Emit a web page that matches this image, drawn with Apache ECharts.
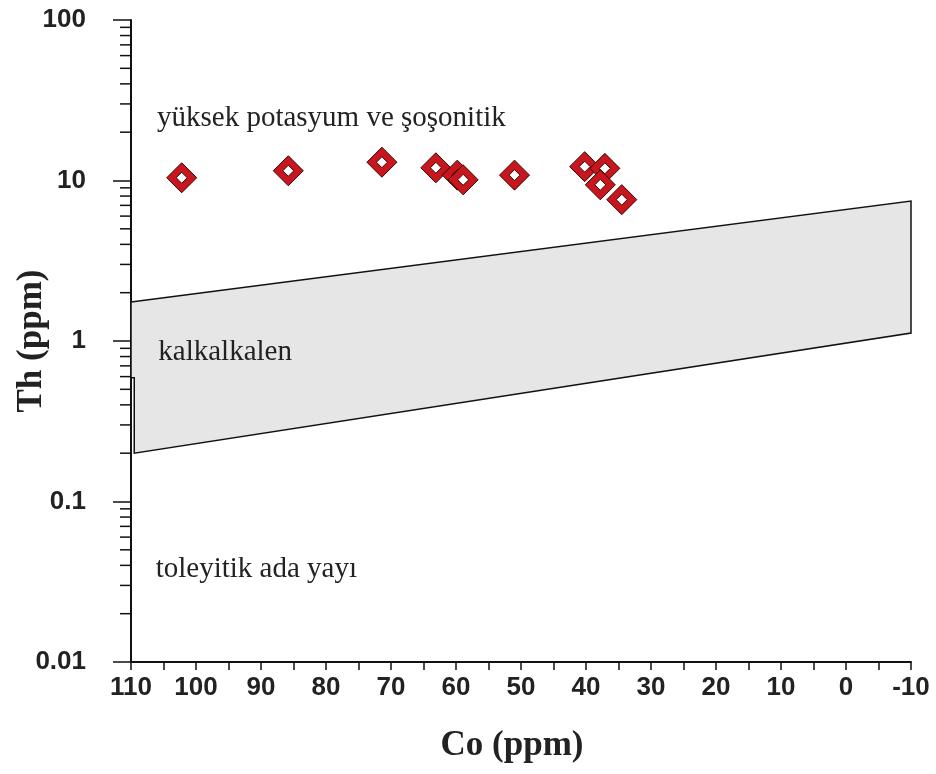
<!DOCTYPE html>
<html><head><meta charset="utf-8">
<script src="https://cdn.jsdelivr.net/npm/echarts@6/dist/echarts.min.js"></script>
<style>html,body{margin:0;padding:0;background:#fff}#c{width:936px;height:774px}</style>
</head><body><div id="c"></div>
<script>
// Sample points (Co ppm, Th ppm)
const sampleCo = [102.2, 85.8, 71.4, 63.1, 59.8, 58.9, 51.0, 40.2, 37.1, 37.8, 34.5];
const sampleTh = [10.4, 11.5, 13.0, 12.0, 10.8, 10.1, 10.8, 12.2, 11.9, 9.4, 7.6];

// Calc-alkaline field polygon
const fieldCo = [110, -10, -10, 109.5, 109.5, 110];
const fieldTh = [1.75, 7.45, 1.12, 0.2, 0.59, 0.59];

// Field labels
const fieldNames = ['yüksek potasyum ve şoşonitik', 'kalkalkalen', 'toleyitik ada yayı'];
const fieldLabelCo = [106.0, 105.8, 106.2];
const fieldLabelTh = [24.5, 0.85, 0.0376];

// Y-axis tick labels and log minor ticks
const yTickLabels = ['0.01', '0.1', '1', '10', '100'];
const yMinorTicks = [0.02,0.03,0.04,0.05,0.06,0.07,0.08,0.09,
                     0.2,0.3,0.4,0.5,0.6,0.7,0.8,0.9,
                     2,3,4,5,6,7,8,9,
                     20,30,40,50,60,70,80,90];

const chart = echarts.init(document.getElementById('c'), null, {renderer: 'canvas'});

const axisColor = '#111';
const labelFont = {fontFamily: '"Liberation Sans", Arial, sans-serif', fontWeight: 'bold', fontSize: 26, color: '#222'};
const titleFont = {fontFamily: '"Liberation Serif", "Times New Roman", serif', fontWeight: 'bold', fontSize: 35, color: '#222'};

chart.setOption({
  animation: false,
  backgroundColor: '#fff',
  grid: {left: 131, right: 25, top: 20, bottom: 112, containLabel: false, outerBoundsMode: 'none'},
  xAxis: {
    type: 'value', inverse: true, min: -10, max: 110, interval: 10,
    name: 'Co (ppm)', nameLocation: 'middle', nameGap: 66, nameMoveOverlap: false,
    nameTextStyle: Object.assign({padding: [0, 18, 0, 0]}, titleFont),
    axisLine: {show: true, onZero: false, lineStyle: {color: axisColor, width: 2}},
    axisTick: {show: true, inside: false, length: 8, lineStyle: {color: axisColor, width: 1.5}},
    minorTick: {show: true, splitNumber: 2, length: 8, lineStyle: {color: axisColor, width: 1.5}},
    splitLine: {show: false},
    axisLabel: Object.assign({margin: 13}, labelFont)
  },
  yAxis: {
    type: 'log', logBase: 10, min: 0.01, max: 100,
    name: 'Th (ppm)', nameLocation: 'middle', nameGap: 82, nameMoveOverlap: false,
    nameTextStyle: titleFont,
    axisLine: {show: true, onZero: false, lineStyle: {color: axisColor, width: 2}},
    axisTick: {show: true, inside: false, length: 18, lineStyle: {color: axisColor, width: 1.5}},
    minorTick: {show: false},
    splitLine: {show: false},
    axisLabel: Object.assign({
      margin: 45,
      formatter: function (v) {
        const k = Math.round(Math.log10(v)) + 2;
        return yTickLabels[k] !== undefined ? yTickLabels[k] : '';
      }
    }, labelFont)
  },
  series: [
    {
      type: 'custom', name: 'field', clip: false, z: 1,
      data: [[fieldCo[0], fieldTh[0]]],
      renderItem: function (params, api) {
        const pts = fieldCo.map((c, i) => api.coord([c, fieldTh[i]]));
        return {type: 'polygon', shape: {points: pts},
          style: {fill: '#e6e6e6', stroke: '#111', lineWidth: 1.5}};
      }
    },
    {
      type: 'custom', name: 'minorTicks', clip: false, z: 3, silent: true,
      data: yMinorTicks.map(v => [110, v]),
      renderItem: function (params, api) {
        const p = api.coord([api.value(0), api.value(1)]);
        return {type: 'line', shape: {x1: p[0] - 11, y1: p[1], x2: p[0], y2: p[1]},
          style: {stroke: axisColor, lineWidth: 1.5}};
      }
    },
    {
      type: 'custom', name: 'labels', clip: false, z: 2, silent: true,
      data: fieldNames.map((n, i) => [fieldLabelCo[i], fieldLabelTh[i], i]),
      renderItem: function (params, api) {
        const p = api.coord([api.value(0), api.value(1)]);
        return {type: 'text', x: p[0], y: p[1],
          style: {text: fieldNames[api.value(2)], fill: '#222',
            fontFamily: '"Liberation Serif", "Times New Roman", serif', fontSize: 29,
            align: 'left', verticalAlign: 'middle'}};
      }
    },
    {
      type: 'custom', name: 'samples', clip: false, z: 4,
      data: sampleCo.map((c, i) => [c, sampleTh[i]]),
      renderItem: function (params, api) {
        const p = api.coord([api.value(0), api.value(1)]);
        const R = 15, r = 5.5, x = p[0], y = p[1];
        const dia = s => [[x, y - s], [x + s, y], [x, y + s], [x - s, y]];
        return {type: 'group', children: [
          {type: 'polygon', shape: {points: dia(R)}, style: {fill: '#c8161e', stroke: '#3a0505', lineWidth: 1}},
          {type: 'polygon', shape: {points: dia(r)}, style: {fill: '#ffffff', stroke: '#3a0505', lineWidth: 1}}
        ]};
      }
    }
  ]
});
</script>
</body></html>
